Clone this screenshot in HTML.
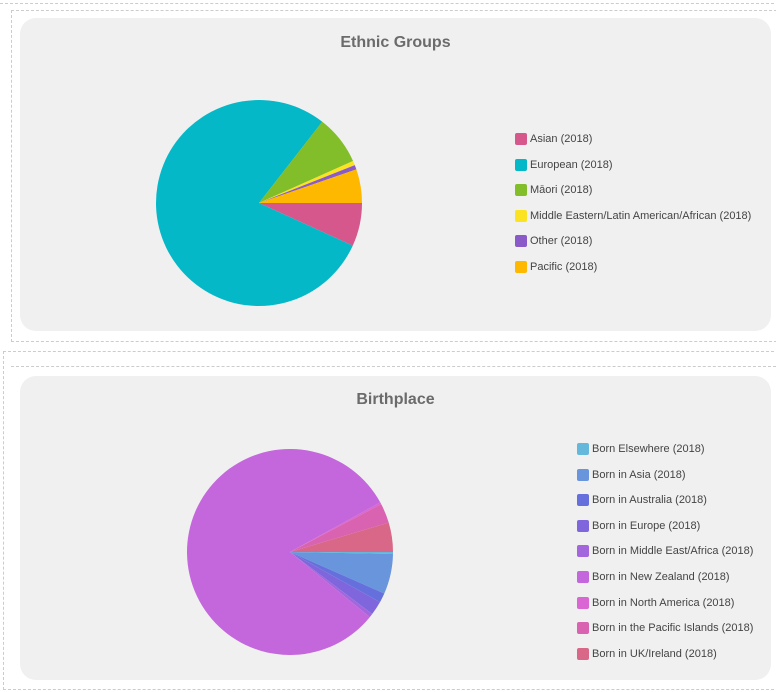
<!DOCTYPE html>
<html><head><meta charset="utf-8"><style>
body{margin:0;width:776px;height:692px;background:#fff;font-family:"Liberation Sans",sans-serif;position:relative;overflow:hidden}
.dash{position:absolute;border:1px dashed #ccc}
.card{position:absolute;left:20px;width:751px;background:#f0f0f0;border-radius:16px}
.title{position:absolute;left:0;width:100%;text-align:center;font-size:16px;font-weight:bold;color:#6b6b6b}
.leg{position:absolute;font-size:11px;color:#444}
.row{position:absolute;white-space:nowrap;height:14px;line-height:14px}
.sw{position:absolute;left:0;top:1px;width:12px;height:12px;border-radius:2px}
.row span.t{position:absolute;left:15px;top:0}
svg{position:absolute;left:0;top:0}
</style></head><body>
<div class="dash" style="left:0;top:3px;width:774px;height:0;border-width:1px 0 0 0"></div>
<div class="dash" style="left:11px;top:10px;width:770px;height:330px;border-right:none"></div>
<div class="dash" style="left:3px;top:351px;width:780px;height:337px;border-right:none"></div>
<div class="dash" style="left:11px;top:366px;width:770px;height:0;border-width:1px 0 0 0"></div>
<div class="card" style="top:18px;height:313px">
 <div class="title" style="top:16px">Ethnic Groups</div>
</div>
<div class="card" style="top:376px;height:304px">
 <div class="title" style="top:15px">Birthplace</div>
</div>
<svg id="chart" width="776" height="692"></svg>
<div id="leg1" class="leg" style="left:515px;top:132px"></div>
<div id="leg2" class="leg" style="left:577px;top:442px"></div>
<script>
const ethCats=["Asian (2018)","European (2018)","Māori (2018)","Middle Eastern/Latin American/African (2018)","Other (2018)","Pacific (2018)"];
const ethVals=[6.8,78.9,7.8,0.7,0.7,5.3];
const ethColors=["#d6578c","#05b8c8","#82be2a","#fbe321","#8a5ac8","#ffb800"];
const bpCats=["Born Elsewhere (2018)","Born in Asia (2018)","Born in Australia (2018)","Born in Europe (2018)","Born in Middle East/Africa (2018)","Born in New Zealand (2018)","Born in North America (2018)","Born in the Pacific Islands (2018)","Born in UK/Ireland (2018)"];
const bpVals=[0.3,6.3,1.5,2.2,0.6,81.2,0.3,3.1,4.6];
const bpColors=["#64b8dc","#6895dc","#6670dc","#7f66dc","#a366dc","#c466dc","#d966d2","#d963b0","#d96788"];
const NS="http://www.w3.org/2000/svg";
const svg=document.getElementById('chart');
function pie(vals,colors,cx,cy,r,name){
  const tot=vals.reduce((a,b)=>a+b,0);let a0=0;
  vals.forEach((v,i)=>{
    const a1=a0+v/tot*2*Math.PI;
    const p=document.createElementNS(NS,'path');
    const x0=cx+r*Math.cos(a0),y0=cy+r*Math.sin(a0),x1=cx+r*Math.cos(a1),y1=cy+r*Math.sin(a1);
    p.setAttribute('d',`M${cx},${cy}L${x0},${y0}A${r},${r} 0 ${a1-a0>Math.PI?1:0} 1 ${x1},${y1}Z`);
    p.setAttribute('fill',colors[i]);
    
    
    svg.appendChild(p);a0=a1;
  });
}
function legend(id,cats,colors,step,name){
  const L=document.getElementById(id);
  cats.forEach((c,i)=>{
    const d=document.createElement('div');d.className='row';d.style.top=(i*step)+'px';
    
    
    d.innerHTML=`<div class="sw" style="background:${colors[i]}"></div><span class="t">${c}</span>`;
    L.appendChild(d);
  });
}
pie(ethVals,ethColors,259,203,103,'ethnic');
pie(bpVals,bpColors,290,552,103,'birthplace');
legend('leg1',ethCats,ethColors,25.5,'ethnic-legend');
legend('leg2',bpCats,bpColors,25.6,'birthplace-legend');
</script>
</body></html>
